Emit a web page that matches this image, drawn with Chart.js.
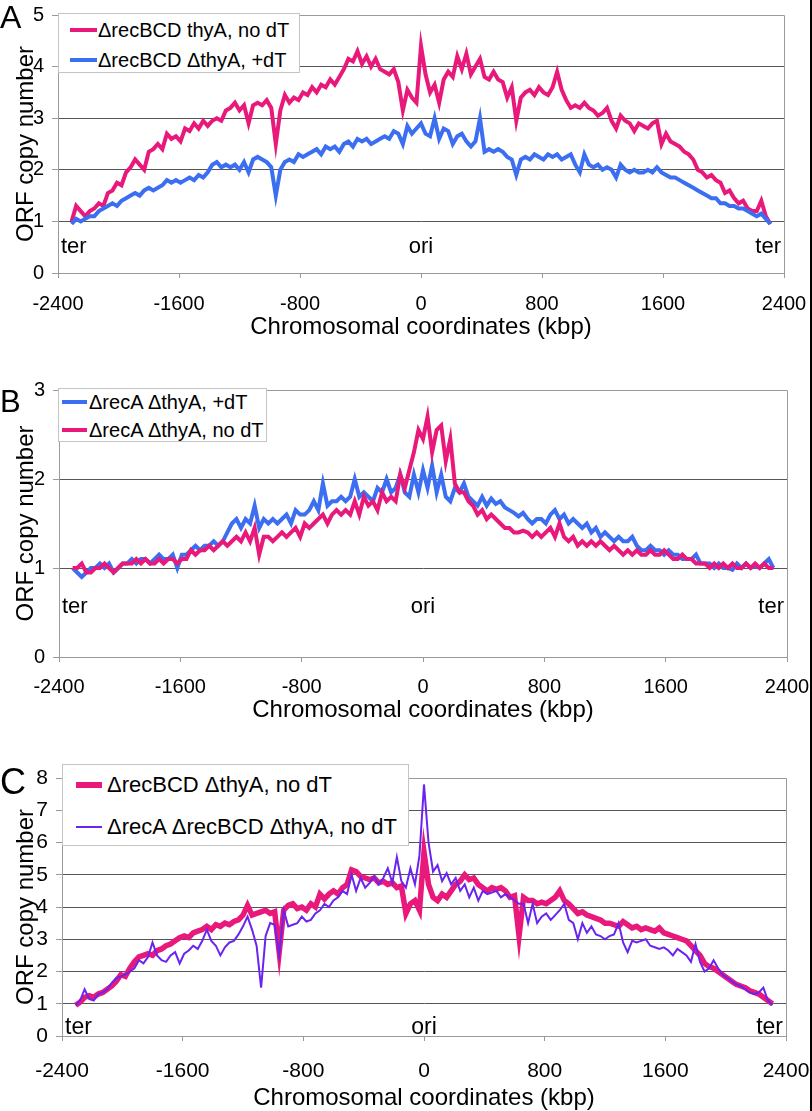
<!DOCTYPE html>
<html>
<head>
<meta charset="utf-8">
<title>ORF copy number along the chromosome</title>
<script src="https://cdn.jsdelivr.net/npm/chart.js@4.4.1/dist/chart.umd.min.js"></script>
<style>
  body { margin: 0; background: #fff; font-family: "Liberation Sans", Arial, sans-serif; }
  #page { position: relative; width: 812px; height: 1111px; overflow: hidden; background: #fff; }
  .panel { position: absolute; left: 0; }
  .letter { position: absolute; left: 0; line-height: 1; color: #000; }
  .legend { position: absolute; background: #fff; border: 1px solid #c4c4c4; box-sizing: border-box; }
  .row { position: absolute; display: flex; align-items: center; white-space: nowrap; color: #000; }
  .swatch { display: inline-block; flex: none; }
  #edge { position: absolute; left: 810px; top: 0; width: 2px; height: 1111px; background: #000; }
</style>
</head>
<body>
<div id="page">
  <div class="panel" style="top:0"><canvas id="chart-a" width="812" height="350"></canvas></div>
  <div class="panel" style="top:370px"><canvas id="chart-b" width="812" height="360"></canvas></div>
  <div class="panel" style="top:740px"><canvas id="chart-c" width="812" height="371"></canvas></div>

  <div class="letter" style="top:1px;font-size:32px">A</div>
  <div class="letter" style="top:386px;font-size:31px">B</div>
  <div class="letter" style="top:764px;font-size:36px">C</div>

  <div class="legend" style="left:58px;top:13px;width:242px;height:60px">
    <div class="row" style="left:11px;top:4px;height:24px;font-size:20px"><span class="swatch" style="width:27px;height:4px;background:#E8197A"></span><span style="margin-left:1px">&Delta;recBCD thyA, no dT</span></div>
    <div class="row" style="left:11px;top:34px;height:24px;font-size:20px"><span class="swatch" style="width:27px;height:4px;background:#3B6EF0"></span><span style="margin-left:1px">&Delta;recBCD &Delta;thyA, +dT</span></div>
  </div>

  <div class="legend" style="left:58px;top:388px;width:209px;height:54px">
    <div class="row" style="left:3px;top:1px;height:24px;font-size:20px"><span class="swatch" style="width:25px;height:4px;background:#3B6EF0"></span><span style="margin-left:2px">&Delta;recA &Delta;thyA, +dT</span></div>
    <div class="row" style="left:3px;top:29px;height:24px;font-size:20px"><span class="swatch" style="width:25px;height:4px;background:#E8197A"></span><span style="margin-left:2px">&Delta;recA &Delta;thyA, no dT</span></div>
  </div>

  <div class="legend" style="left:62px;top:764px;width:347px;height:82px">
    <div class="row" style="left:13px;top:7px;height:26px;font-size:22px"><span class="swatch" style="width:26px;height:6px;background:#E8197A"></span><span style="margin-left:5px">&Delta;recBCD &Delta;thyA, no dT</span></div>
    <div class="row" style="left:13px;top:49px;height:26px;font-size:22px"><span class="swatch" style="width:26px;height:2px;background:#6A24F0"></span><span style="margin-left:5px">&Delta;recA &Delta;recBCD &Delta;thyA, no dT</span></div>
  </div>

  <div id="edge"></div>
</div>

<script>
// chromosomal position of every ORF bin (kbp), shared by all three panels
var coords = [
  -2310,-2280,-2250,-2220,-2190,-2160,-2130,-2100,-2070,-2040,
  -2010,-1980,-1950,-1920,-1890,-1860,-1830,-1800,-1770,-1740,
  -1710,-1680,-1650,-1620,-1590,-1560,-1530,-1500,-1470,-1440,
  -1410,-1380,-1350,-1320,-1290,-1260,-1230,-1200,-1170,-1140,
  -1110,-1080,-1050,-1020,-990,-960,-930,-900,-870,-840,
  -810,-780,-750,-720,-690,-660,-630,-600,-570,-540,
  -510,-480,-450,-420,-390,-360,-330,-300,-270,-240,
  -210,-180,-150,-120,-90,-60,-30,0,30,60,
  90,120,150,180,210,240,270,300,330,360,
  390,420,450,480,510,540,570,600,630,660,
  690,720,750,780,810,840,870,900,930,960,
  990,1020,1050,1080,1110,1140,1170,1200,1230,1260,
  1290,1320,1350,1380,1410,1440,1470,1500,1530,1560,
  1590,1620,1650,1680,1710,1740,1770,1800,1830,1860,
  1890,1920,1950,1980,2010,2040,2070,2100,2130,2160,
  2190,2220,2250,2280,2310
];
var xTicks = [-2400, -1600, -800, 0, 800, 1600, 2400];

//PANEL A - recBCD thyA, no dT  /  recBCD thyA, +dT
var recBCDNoDT = [
  1.0,1.3,1.2,1.1,1.2,1.25,1.35,1.3,1.55,1.6,
  1.75,1.7,1.95,2.05,2.2,2.1,2.0,2.35,2.4,2.5,
  2.4,2.7,2.6,2.65,2.55,2.8,2.75,2.9,2.8,2.95,
  2.85,2.95,3.0,2.95,3.15,3.2,3.3,3.15,3.25,2.9,
  3.25,3.3,3.25,3.35,3.2,2.5,3.15,3.45,3.3,3.4,
  3.35,3.5,3.45,3.6,3.5,3.65,3.6,3.75,3.65,3.8,
  3.95,4.15,4.1,4.3,4.05,4.2,4.0,4.15,3.95,3.9,
  3.85,3.95,3.7,3.15,3.55,3.4,3.3,4.4,3.85,3.5,
  3.65,3.3,3.75,3.9,3.8,4.2,3.95,4.25,3.85,4.0,
  4.15,3.8,3.75,3.9,3.75,3.7,3.4,3.6,2.95,3.4,
  3.5,3.55,3.45,3.6,3.5,3.45,3.6,3.9,3.55,3.35,
  3.2,3.25,3.2,3.3,3.2,3.15,3.05,3.1,3.2,2.95,
  2.8,3.05,2.95,2.9,2.75,2.9,2.85,2.8,2.9,2.95,
  2.5,2.7,2.55,2.5,2.45,2.35,2.3,2.2,2.0,1.95,
  1.85,1.9,1.8,1.75,1.55,1.6,1.45,1.35,1.4,1.25,
  1.2,1.2,1.4,1.1,0.95
];
var recBCDPlusDT = [
  0.95,1.05,1.0,1.05,1.1,1.1,1.2,1.25,1.3,1.35,
  1.3,1.4,1.45,1.5,1.55,1.5,1.6,1.65,1.6,1.65,
  1.7,1.8,1.75,1.8,1.75,1.8,1.85,1.8,1.9,1.85,
  1.95,2.1,2.15,2.05,2.1,2.05,2.1,2.0,2.15,1.95,
  2.2,2.25,2.2,2.15,2.05,1.5,2.0,2.15,2.2,2.15,
  2.3,2.25,2.3,2.35,2.4,2.3,2.45,2.4,2.45,2.35,
  2.5,2.55,2.45,2.6,2.55,2.6,2.5,2.55,2.6,2.65,
  2.6,2.75,2.7,2.5,2.85,2.7,2.8,2.9,2.7,2.65,
  3.0,2.6,2.8,2.75,2.5,2.65,2.7,2.55,2.45,2.55,
  3.0,2.35,2.4,2.35,2.4,2.35,2.25,2.2,1.9,2.2,
  2.25,2.2,2.3,2.25,2.2,2.3,2.25,2.3,2.2,2.25,
  2.3,2.1,1.95,2.3,2.1,2.05,2.1,2.0,2.05,2.0,
  1.85,2.1,2.0,1.95,2.0,1.95,1.95,2.0,1.95,2.05,
  1.95,1.9,1.85,1.85,1.8,1.75,1.7,1.65,1.6,1.55,
  1.5,1.45,1.45,1.35,1.35,1.3,1.3,1.25,1.25,1.2,
  1.15,1.1,1.15,1.05,0.95
];

//PANEL B - recA thyA, +dT  /  recA thyA, no dT
var recAPlusDT = [
  1.0,0.95,0.9,0.95,1.0,1.0,1.05,1.0,1.05,0.95,
  1.0,1.05,1.05,1.1,1.05,1.1,1.1,1.05,1.1,1.15,
  1.1,1.1,1.15,1.0,1.15,1.15,1.2,1.25,1.2,1.25,
  1.25,1.3,1.25,1.3,1.4,1.5,1.55,1.45,1.55,1.5,
  1.7,1.45,1.55,1.5,1.55,1.5,1.55,1.6,1.5,1.65,
  1.6,1.6,1.65,1.75,1.65,1.95,1.7,1.75,1.75,1.8,
  1.75,1.8,2.0,1.8,1.85,1.8,1.75,1.9,1.85,2.0,
  1.85,1.9,2.05,1.85,1.8,2.05,1.85,2.1,1.9,2.15,
  1.85,2.05,1.8,1.75,1.9,1.85,1.95,1.8,1.75,1.7,
  1.8,1.7,1.78,1.72,1.75,1.68,1.65,1.62,1.58,1.62,
  1.55,1.5,1.55,1.55,1.5,1.6,1.65,1.55,1.6,1.5,
  1.55,1.5,1.45,1.5,1.4,1.45,1.35,1.4,1.35,1.3,
  1.35,1.3,1.3,1.35,1.25,1.2,1.2,1.25,1.2,1.2,
  1.15,1.2,1.15,1.15,1.1,1.1,1.1,1.15,1.05,1.05,
  1.05,1.0,1.05,1.0,1.0,0.98,1.05,1.0,1.05,1.0,
  1.02,1.0,1.05,1.1,1.0
];
var recANoDT = [
  1.0,1.0,1.05,0.95,0.95,1.0,1.0,1.05,1.0,0.95,
  1.0,1.05,1.05,1.05,1.1,1.05,1.1,1.05,1.05,1.1,
  1.05,1.1,1.1,1.05,1.1,1.1,1.2,1.15,1.2,1.2,
  1.25,1.2,1.25,1.3,1.25,1.3,1.35,1.3,1.4,1.3,
  1.45,1.15,1.35,1.35,1.3,1.35,1.4,1.35,1.4,1.45,
  1.35,1.5,1.45,1.5,1.55,1.6,1.5,1.6,1.65,1.6,
  1.65,1.6,1.75,1.6,1.8,1.7,1.75,1.65,1.85,1.75,
  1.8,1.75,2.05,1.9,2.1,2.3,2.55,2.45,2.7,2.3,
  2.55,2.6,2.2,2.45,1.95,1.85,1.85,1.75,1.7,1.6,
  1.65,1.55,1.6,1.55,1.5,1.45,1.45,1.4,1.4,1.42,
  1.4,1.35,1.4,1.35,1.4,1.45,1.35,1.5,1.35,1.3,
  1.35,1.25,1.3,1.25,1.3,1.25,1.3,1.25,1.2,1.25,
  1.2,1.15,1.2,1.15,1.2,1.15,1.15,1.2,1.15,1.15,
  1.2,1.15,1.1,1.1,1.15,1.1,1.1,1.05,1.05,1.05,
  1.0,1.05,1.0,1.05,1.0,1.05,1.0,1.0,1.05,1.0,
  1.05,1.0,1.05,1.0,1.0
];

//PANEL C - recBCD thyA, no dT  /  recA recBCD thyA, no dT
var recBCDThyNoDT = [
  0.95,1.05,1.2,1.25,1.2,1.3,1.35,1.45,1.55,1.7,
  1.9,1.85,2.1,2.3,2.45,2.5,2.55,2.5,2.65,2.7,
  2.8,2.85,2.95,3.05,3.1,3.05,3.2,3.25,3.3,3.4,
  3.3,3.45,3.4,3.5,3.45,3.55,3.6,3.75,4.05,3.75,
  3.8,3.85,3.9,3.8,3.85,2.6,3.9,4.05,4.1,3.95,
  4.0,3.9,4.1,4.0,4.4,4.25,4.4,4.5,4.4,4.6,
  4.7,5.15,5.1,4.95,4.9,4.85,4.9,4.75,4.8,4.7,
  4.75,4.6,4.65,3.8,4.1,4.2,3.9,5.7,4.7,4.3,
  4.2,4.4,4.3,4.5,4.7,4.8,5.0,4.85,4.9,4.7,
  4.6,4.5,4.6,4.55,4.6,4.5,4.3,4.35,3.1,4.3,
  4.2,4.2,4.1,4.15,4.1,4.2,4.3,4.5,4.2,4.1,
  3.95,3.8,3.85,3.75,3.7,3.65,3.6,3.5,3.5,3.45,
  3.4,3.55,3.45,3.35,3.4,3.3,3.35,3.3,3.25,3.35,
  3.2,3.15,3.1,3.05,3.0,2.95,2.8,2.65,2.5,2.25,
  2.15,2.1,2.0,1.9,1.8,1.7,1.6,1.55,1.5,1.4,
  1.35,1.3,1.2,1.1,1.0
];
var recARecBCDNoDT = [
  0.95,1.1,1.45,1.15,1.1,1.3,1.35,1.45,1.65,1.8,
  1.85,1.9,2.0,2.1,2.35,2.25,2.45,2.9,2.5,2.35,
  2.3,2.5,2.6,2.25,2.55,2.65,2.8,2.7,2.95,3.3,
  2.95,2.8,2.5,2.75,2.9,2.95,3.15,3.4,3.7,3.3,
  2.8,1.5,3.1,3.5,3.45,2.5,3.9,3.4,3.45,3.5,
  3.7,3.55,3.6,3.8,3.9,4.1,4.0,4.2,4.3,4.5,
  4.4,5.0,4.5,4.9,4.6,4.75,4.95,4.7,4.9,5.2,
  4.75,5.55,4.8,4.6,5.2,4.7,5.6,7.8,6.0,5.1,
  5.3,4.8,5.05,4.7,4.9,4.5,4.7,4.3,4.6,4.2,
  4.5,4.4,4.45,4.5,4.3,4.4,4.3,4.2,4.1,4.1,
  3.5,4.1,3.5,3.7,3.8,3.6,3.75,3.9,4.1,3.6,
  3.5,3.0,3.5,3.2,3.4,3.15,3.1,3.0,3.1,3.15,
  3.5,2.9,2.6,2.95,2.9,2.95,3.0,2.8,2.75,2.7,
  2.75,2.65,2.5,2.7,2.6,2.5,2.3,2.85,2.3,2.0,
  2.1,2.35,2.1,1.9,1.8,1.7,1.6,1.55,1.45,1.35,
  1.3,1.35,1.5,1.1,0.95
];

var PINK = '#E8197A';
var BLUE = '#3B6EF0';
var PURPLE = '#6A24F0';

Chart.defaults.font.family = '"Liberation Sans", Arial, sans-serif';
Chart.defaults.color = '#000';
Chart.defaults.animation = false;

function toPoints(values) {
  return coords.map(function (x, i) { return { x: x, y: values[i] }; });
}

// plot frame (top + right) and the ter / ori / ter captions
var framePlugin = {
  id: 'frame',
  beforeDatasetsDraw: function (chart) {
    var ctx = chart.ctx, a = chart.chartArea;
    ctx.save();
    ctx.strokeStyle = '#9a9a9a';
    ctx.lineWidth = 1;
    ctx.beginPath();
    ctx.moveTo(a.left, Math.round(a.top) + 0.5);
    ctx.lineTo(Math.round(a.right) + 0.5, Math.round(a.top) + 0.5);
    ctx.lineTo(Math.round(a.right) + 0.5, a.bottom);
    ctx.stroke();
    ctx.restore();
  },
  afterDatasetsDraw: function (chart, args, opts) {
    var ctx = chart.ctx, a = chart.chartArea;
    var yy = chart.scales.y.getPixelForValue(opts.labelY);
    ctx.save();
    ctx.font = opts.size + 'px "Liberation Sans", Arial, sans-serif';
    ctx.fillStyle = '#000';
    ctx.textBaseline = 'alphabetic';
    ctx.textAlign = 'left';
    ctx.fillText('ter', a.left + 3, yy);
    ctx.textAlign = 'center';
    ctx.fillText('ori', chart.scales.x.getPixelForValue(0), yy);
    ctx.textAlign = 'right';
    ctx.fillText('ter', a.right - 3, yy);
    ctx.restore();
  }
};

function panelOptions(p) {
  return {
    responsive: false,
    layout: { padding: p.padding },
    plugins: {
      legend: { display: false },
      tooltip: { enabled: false },
      frame: { labelY: p.labelY, size: p.labelSize }
    },
    scales: {
      x: {
        type: 'linear',
        min: -2400,
        max: 2400,
        afterBuildTicks: function (s) { s.ticks = xTicks.map(function (v) { return { value: v }; }); },
        ticks: { font: { size: p.tickSize }, color: '#000', padding: p.tickPad, maxRotation: 0,
                 callback: function (v) { return String(v); } },
        grid: { drawOnChartArea: false, tickLength: 5, color: '#9a9a9a' },
        border: { color: '#9a9a9a' },
        title: { display: true, text: 'Chromosomal coordinates (kbp)', color: '#000',
                 font: { size: p.titleSize, lineHeight: 1 }, padding: { top: 0, bottom: p.xTitlePad } },
        // fixed axis band; the end labels may overhang the plot edges
        afterFit: function (s) { s.height = p.xHeight; s.paddingLeft = 0; s.paddingRight = 0; }
      },
      y: {
        min: 0,
        max: p.yMax,
        ticks: { stepSize: 1, font: { size: p.tickSize }, color: '#000', padding: 8 },
        grid: { color: '#555', tickLength: 6, tickColor: '#9a9a9a' },
        border: { color: '#9a9a9a' },
        title: { display: true, text: 'ORF copy number', color: '#000',
                 font: { size: 24, lineHeight: 1 }, padding: { top: 14, bottom: 0 } },
        afterFit: function (s) { s.width = p.yWidth; s.paddingTop = 0; s.paddingBottom = 0; }
      }
    }
  };
}

//CHART A
new Chart(document.getElementById('chart-a').getContext('2d'), {
  type: 'line',
  data: {
    datasets: [{
      label: '\u0394recBCD thyA, no dT',
      data: toPoints(recBCDNoDT),
      borderColor: PINK, borderWidth: 4, pointRadius: 0, tension: 0, order: 1
    }, {
      label: '\u0394recBCD \u0394thyA, +dT',
      data: toPoints(recBCDPlusDT),
      borderColor: BLUE, borderWidth: 4, pointRadius: 0, tension: 0, order: 0
    }]
  },
  options: panelOptions({ padding: { left: 0, top: 15, right: 28, bottom: 11 }, yMax: 5, yWidth: 58,
    xHeight: 66, tickSize: 20, tickPad: 14, titleSize: 24, xTitlePad: 0, labelY: 0.39, labelSize: 22 }),
  plugins: [framePlugin]
});

//CHART B
new Chart(document.getElementById('chart-b').getContext('2d'), {
  type: 'line',
  data: {
    datasets: [{
      label: '\u0394recA \u0394thyA, +dT',
      data: toPoints(recAPlusDT),
      borderColor: BLUE, borderWidth: 4, pointRadius: 0, tension: 0, order: 1
    }, {
      label: '\u0394recA \u0394thyA, no dT',
      data: toPoints(recANoDT),
      borderColor: PINK, borderWidth: 4, pointRadius: 0, tension: 0, order: 0
    }]
  },
  options: panelOptions({ padding: { left: 0, top: 20, right: 25, bottom: 8 }, yMax: 3, yWidth: 59,
    xHeight: 65, tickSize: 20, tickPad: 13, titleSize: 24, xTitlePad: 0, labelY: 0.5, labelSize: 22 }),
  plugins: [framePlugin]
});

//CHART C
new Chart(document.getElementById('chart-c').getContext('2d'), {
  type: 'line',
  data: {
    datasets: [{
      label: '\u0394recBCD \u0394thyA, no dT',
      data: toPoints(recBCDThyNoDT),
      borderColor: PINK, borderWidth: 5.5, pointRadius: 0, tension: 0, order: 1
    }, {
      label: '\u0394recA \u0394recBCD \u0394thyA, no dT',
      data: toPoints(recARecBCDNoDT),
      borderColor: PURPLE, borderWidth: 2, pointRadius: 0, tension: 0, order: 0
    }]
  },
  options: panelOptions({ padding: { left: 0, top: 38, right: 26, bottom: 1 }, yMax: 8, yWidth: 62,
    xHeight: 74, tickSize: 21, tickPad: 18, titleSize: 24, xTitlePad: 0, labelY: 0.05, labelSize: 23 }),
  plugins: [framePlugin]
});
</script>
</body>
</html>
